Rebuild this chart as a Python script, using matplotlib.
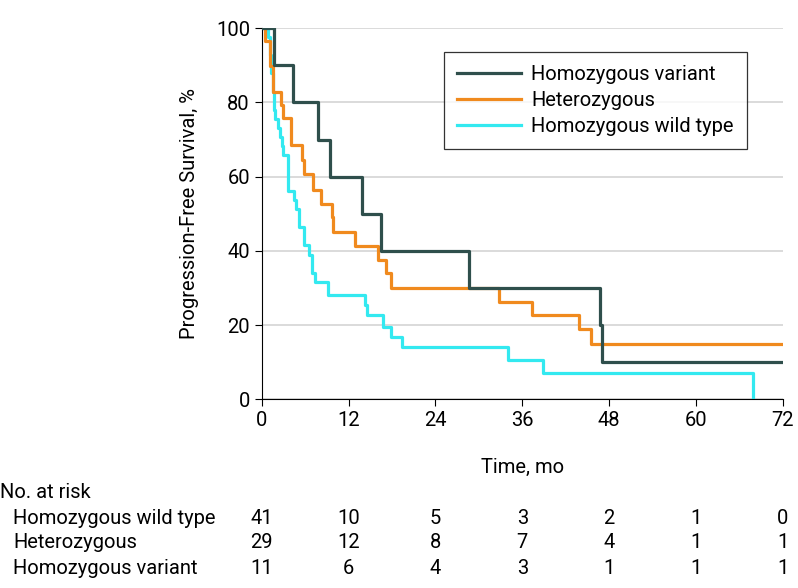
import matplotlib
matplotlib.use("Agg")
import matplotlib.pyplot as plt

plt.rcParams['font.family'] = ['Roboto', 'DejaVu Sans']
FS = 14.5

# step times (mo) and survival (%) after each drop
var_t = [0, 1.66, 4.3, 7.8, 9.5, 13.8, 16.5, 28.7, 46.7, 47.05, 72]
var_s = [100, 90, 80, 70, 60, 50, 40, 30, 20, 10, 10]

het_t = [0, 0.4, 1.1, 1.5, 2.6, 2.9, 4.0, 4.1, 5.6, 5.8, 7.1, 8.2, 9.7, 9.9,
         12.9, 16.0, 17.2, 17.9, 32.8, 37.3, 43.9, 45.5, 72]
het_s = [100, 96.6, 89.7, 82.8, 79.3, 75.7, 72.0, 68.5, 64.5, 60.6, 56.5, 52.7,
         49.0, 45.1, 41.2, 37.6, 33.9, 30.1, 26.2, 22.6, 18.8, 15.0, 15.0]

wt_t = [0, 0.8, 1.1, 1.3, 1.5, 1.7, 1.8, 2.2, 2.5, 2.8, 3.0, 3.6, 4.4, 4.7,
        5.2, 5.9, 6.5, 7.0, 7.3, 9.2, 14.2, 14.5, 16.8, 17.9, 19.4, 34.0,
        38.9, 67.9]
wt_s = [100, 97.6, 92.7, 87.8, 82.9, 78.0, 75.6, 73.2, 70.7, 68.3, 65.9, 56.1,
        53.7, 51.2, 46.3, 41.5, 39.0, 34.1, 31.7, 28.0, 25.3, 22.6, 19.5, 16.8,
        14.1, 10.5, 7.1, 0]

xticks = [0, 12, 24, 36, 48, 60, 72]
risk_labels = ["Homozygous wild type", "Heterozygous", "Homozygous variant"]
risk_wt = [41, 10, 5, 3, 2, 1, 0]
risk_het = [29, 12, 8, 7, 4, 1, 1]
risk_var = [11, 6, 4, 3, 1, 1, 1]

c_var = '#2f4f4c'
c_het = '#f08a1e'
c_wt = '#33e9f0'

fig = plt.figure(figsize=(7.98, 5.88), dpi=100)
ax = fig.add_axes([0.328, 0.321, 0.653, 0.631])

ax.step(var_t, var_s, where='post', color=c_var, lw=2.3, label='Homozygous variant', zorder=3)
ax.step(het_t, het_s, where='post', color=c_het, lw=2.3, label='Heterozygous', zorder=2)
ax.step(wt_t, wt_s, where='post', color=c_wt, lw=2.3, label='Homozygous wild type', zorder=1)

ax.set_xlim(0, 72)
ax.set_ylim(0, 100)
ax.set_xticks(xticks)
ax.set_yticks([0, 20, 40, 60, 80, 100])
ax.yaxis.grid(True, color='#d4d4d4', lw=1.2)
ax.set_axisbelow(True)
ax.spines['top'].set_visible(False)
ax.spines['right'].set_visible(False)
ax.tick_params(labelsize=FS, length=5, colors='black')
ax.set_xlabel('Time, mo', fontsize=FS, labelpad=20)
ax.set_ylabel('Progression-Free Survival, %', fontsize=FS, labelpad=12)

leg = ax.legend(loc='upper right', bbox_to_anchor=(0.931, 0.935), fontsize=FS,
                frameon=True, fancybox=False, handlelength=3.2, borderpad=0.65,
                handletextpad=0.5, labelspacing=0.34, borderaxespad=0)
leg.get_frame().set_edgecolor('black')
leg.get_frame().set_linewidth(0.9)

# number at risk table
fig.text(0.0, 1 - 492 / 588, 'No. at risk', fontsize=FS, va='center', ha='left')
rows = [risk_wt, risk_het, risk_var]
ys = [518, 543, 568]
for lab, vals, yp in zip(risk_labels, rows, ys):
    yf = 1 - yp / 588
    fig.text(13 / 798, yf, lab, fontsize=FS, va='center', ha='left')
    for xt, v in zip(xticks, vals):
        xd = ax.transData.transform((xt, 0))[0]
        xf = fig.transFigure.inverted().transform((xd, 0))[0]
        fig.text(xf, yf, str(v), fontsize=FS, va='center', ha='center')

fig.savefig('out.png', dpi=100)
